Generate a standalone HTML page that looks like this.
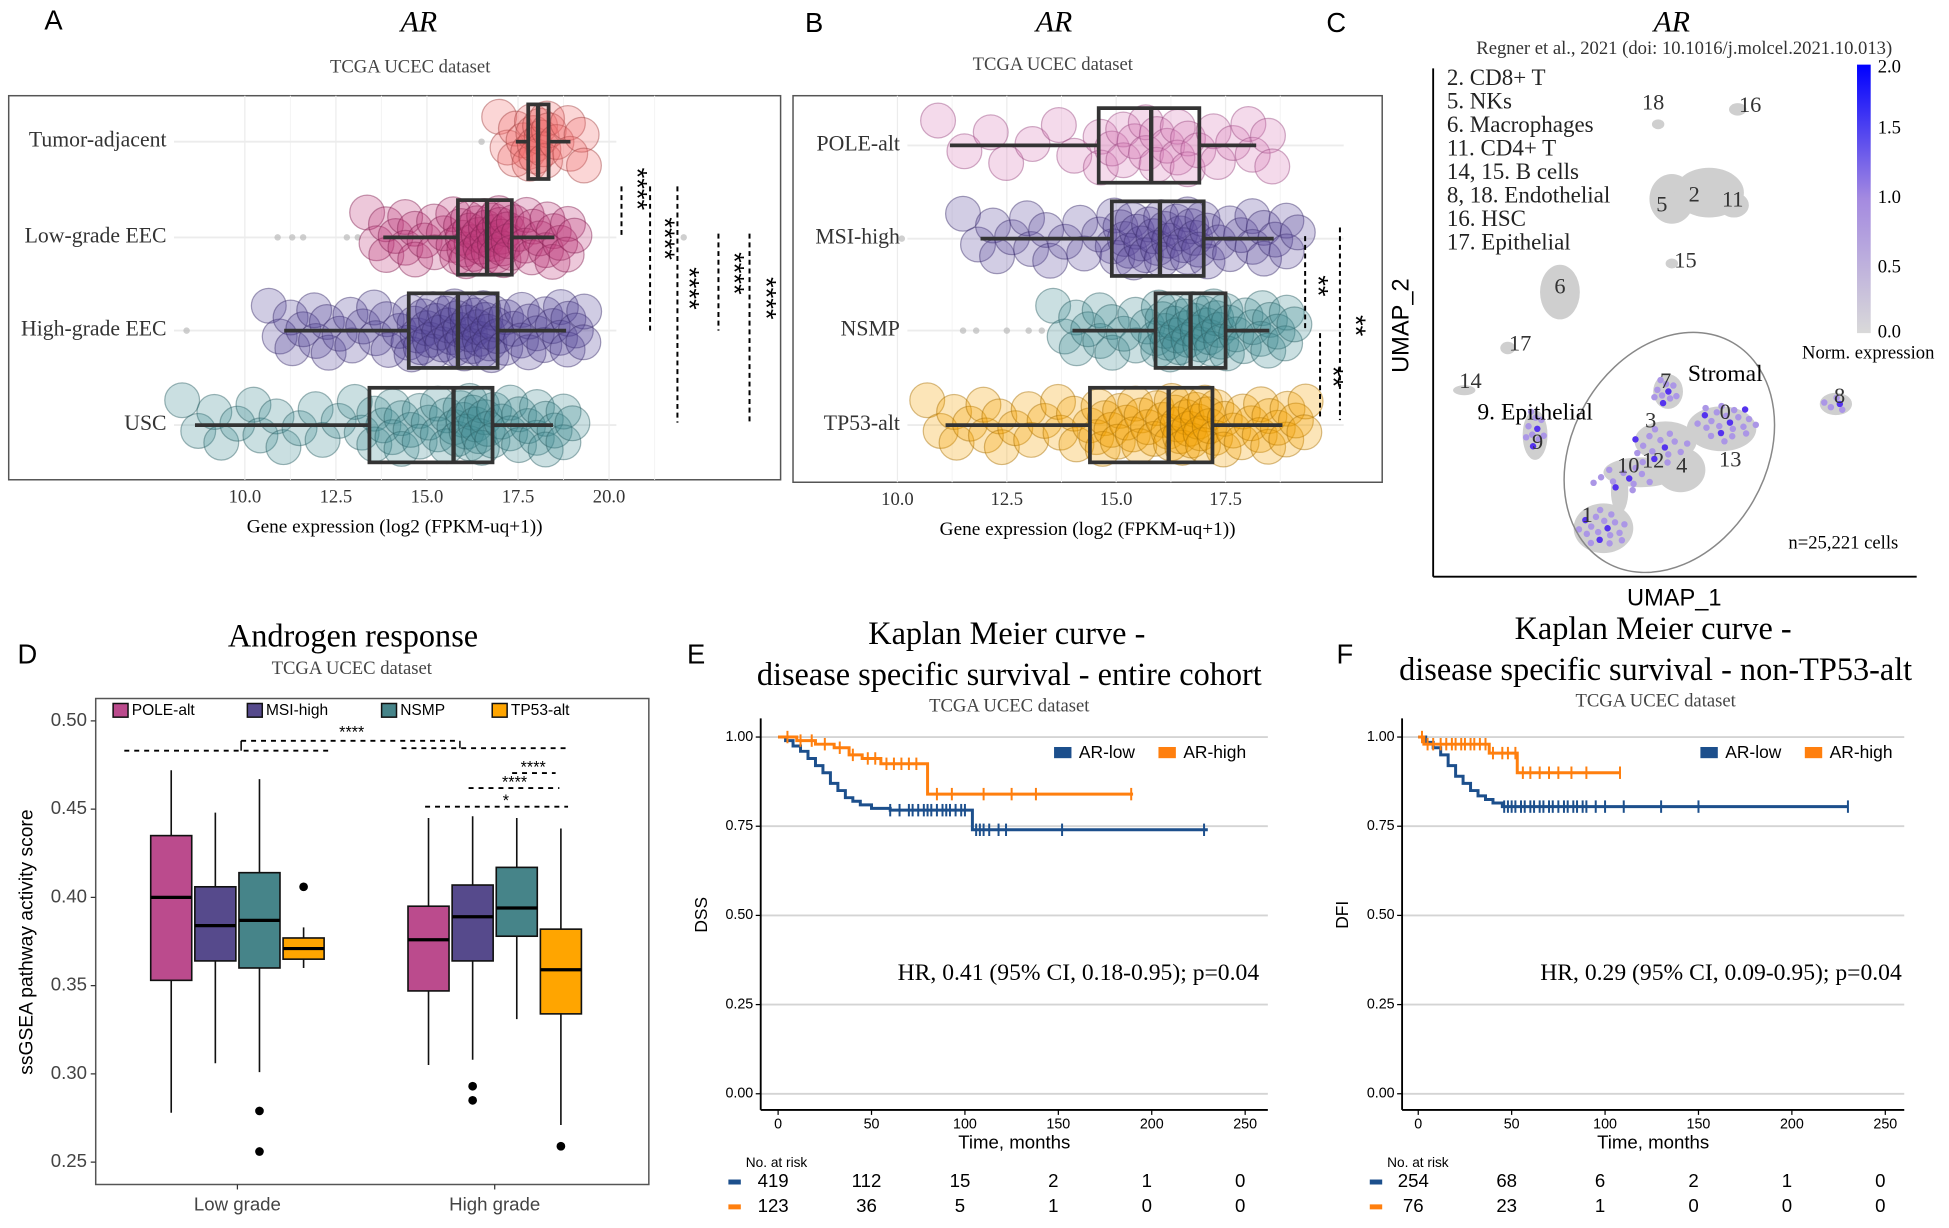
<!DOCTYPE html>
<html><head><meta charset="utf-8">
<style>
html,body{margin:0;padding:0;background:#fff;}
svg{display:block;}
</style></head>
<body>
<svg id="fig" width="1949" height="1228" viewBox="0 0 1568 988" preserveAspectRatio="none">
<rect x="0" y="0" width="1568" height="988" fill="#fff"/>
<g id="root"></g>
</svg>
<script>
// ---------- DATA ----------
// Panel A
const aCategories = ["Tumor-adjacent","Low-grade EEC","High-grade EEC","USC"];
const aWhiskLo = [17.44, 13.8, 11.08, 8.63];
const aQ1 = [17.78, 15.85, 14.5, 13.42];
const aMedian = [18.05, 16.65, 15.85, 15.73];
const aQ3 = [18.34, 17.33, 16.94, 16.8];
const aWhiskHi = [18.94, 18.5, 18.82, 18.46];
const aCounts = [22, 60, 75, 60];
const aOutliers = [[16.5],[10.9,11.3,11.6,12.8,13.1,22.05],[8.4],[]];
const aTicks = [10.0, 12.5, 15.0, 17.5, 20.0];
// Panel B
const bCategories = ["POLE-alt","MSI-high","NSMP","TP53-alt"];
const bWhiskLo = [11.2, 11.9, 14.0, 11.1];
const bQ1 = [14.6, 14.9, 15.9, 14.4];
const bMedian = [15.8, 16.0, 16.7, 16.2];
const bQ3 = [16.9, 17.0, 17.5, 17.2];
const bWhiskHi = [18.2, 18.6, 18.5, 18.8];
const bCounts = [30, 55, 55, 70];
const bOutliers = [[],[10.1],[11.5,11.8,12.5,13.0,13.3],[]];
const bTicks = [10.0, 12.5, 15.0, 17.5];
// Panel D
const dGroups = ["Low grade","High grade"];
const dSubtypes = ["POLE-alt","MSI-high","NSMP","TP53-alt"];
const dWhiskLo = [[0.278,0.306,0.301,0.360],[0.305,0.308,0.331,0.271]];
const dQ1 = [[0.353,0.364,0.360,0.365],[0.347,0.364,0.378,0.334]];
const dMedian = [[0.400,0.384,0.387,0.371],[0.376,0.389,0.394,0.359]];
const dQ3 = [[0.435,0.406,0.414,0.377],[0.395,0.407,0.417,0.382]];
const dWhiskHi = [[0.472,0.448,0.467,0.383],[0.445,0.446,0.445,0.439]];
const dOutliers = [[[],[],[0.279,0.256],[0.406]],[[],[0.293,0.285],[],[0.259]]];
const dTicks = [0.25,0.30,0.35,0.40,0.45,0.50];
// Panel E (entire cohort)
const eLowT = [0,4,8,12,16,20,24,28,32,36,40,44,50,60,104,230];
const eLowS = [1,0.99,0.975,0.96,0.94,0.92,0.90,0.87,0.85,0.83,0.82,0.81,0.80,0.795,0.74,0.74];
const eHighT = [0,10,20,30,38,45,55,80,190];
const eHighS = [1,0.99,0.98,0.97,0.95,0.94,0.925,0.84,0.84];
const eLowCens = [60,65,70,72,75,78,80,82,85,88,90,92,95,98,100,106,108,110,113,118,122,152,228];
const eHighCens = [5,12,18,25,33,40,48,52,58,62,66,70,74,85,93,110,125,138,189];
const eRiskLow = [419,112,15,2,1,0];
const eRiskHigh = [123,36,5,1,0,0];
// Panel F (non-TP53-alt)
const fLowT = [0,4,8,12,16,20,24,28,32,36,40,45,230];
const fLowS = [1,0.985,0.97,0.95,0.92,0.89,0.87,0.85,0.835,0.825,0.815,0.805,0.805];
const fHighT = [0,3,38,53,108];
const fHighS = [1,0.98,0.955,0.90,0.90];
const fLowCens = [46,48,50,52,55,57,60,62,65,67,70,72,75,78,80,83,85,88,90,95,100,110,130,150,230];
const fHighCens = [2,5,8,12,15,18,20,23,25,28,30,33,36,40,45,48,52,56,60,65,70,75,82,90,108];
const fRiskLow = [254,68,6,2,1,0];
const fRiskHigh = [76,23,1,0,0,0];
const kmTicksX = [0,50,100,150,200,250];
const kmTicksY = [0,0.25,0.5,0.75,1.0];

// ---------- HELPERS ----------
const NS = "http://www.w3.org/2000/svg";
const root = document.getElementById('root');
function el(tag, attrs, name, parent) {
  const e = document.createElementNS(NS, tag);
  for (const k in attrs) e.setAttribute(k, attrs[k]);
  
  
  (parent || root).appendChild(e);
  return e;
}
function txt(x, y, s, size, name, opts) {
  opts = opts || {};
  const t = el('text', {x:x, y:y, 'font-size':size, fill:opts.fill||'#000',
    'text-anchor':opts.anchor||'middle', 'font-family':opts.sans?'"Liberation Sans",sans-serif':'"Liberation Serif",serif',
    'font-style':opts.italic?'italic':'normal', 'dominant-baseline':'middle'}, name, opts.parent);
  if (opts.rot) t.setAttribute('transform', 'rotate(' + opts.rot + ' ' + x + ' ' + y + ')');
  t.textContent = s;
  return t;
}
function interp(p, lo, q1, md, q3, hi) {
  const ks=[0,0.25,0.5,0.75,1], vs=[lo,q1,md,q3,hi];
  for (let i=0;i<4;i++) if (p<=ks[i+1]) return vs[i]+(vs[i+1]-vs[i])*(p-ks[i])/(ks[i+1]-ks[i]);
  return hi;
}

// ---------- PANEL A / B (bubble box plots) ----------
function bubblePanel(cfg) {
  const g = el('g', {}, cfg.name);
  el('rect', {x:cfg.bx, y:cfg.by, width:cfg.bw, height:cfg.bh, fill:'#fff', stroke:'#555', 'stroke-width':1.2}, 'plot-frame', g);
  const xs = v => cfg.x0 + (v - cfg.t0) * cfg.ppu;
  cfg.ticks.forEach(t => {
    el('line', {x1:xs(t), x2:xs(t), y1:cfg.by, y2:cfg.by+cfg.bh, stroke:'#ececec', 'stroke-width':1}, 'grid-line', g);
    el('line', {x1:xs(t+1.25), x2:xs(t+1.25), y1:cfg.by, y2:cfg.by+cfg.bh, stroke:'#f4f4f4', 'stroke-width':0.8}, 'grid-line-minor', g);
    txt(xs(t), cfg.by+cfg.bh+15, t.toFixed(1), 15, 'x-tick-label', {fill:'#333', parent:g});
  });
  txt(cfg.bx+cfg.bw/2, cfg.by+cfg.bh+39, 'Gene expression (log2 (FPKM-uq+1))', 15.5, 'x-axis-title', {parent:g});
  cfg.cats.forEach((c, i) => {
    const y = cfg.rows[i];
    el('line', {x1:cfg.labelX+6, x2:xs(20.2), y1:y, y2:y, stroke:'#ececec', 'stroke-width':1.5}, 'row-grid', g);
    txt(cfg.labelX, y, c, 17.5, 'category-label', {anchor:'end', fill:'#333', parent:g});
    cfg.out[i].forEach(o => el('circle', {cx:xs(o), cy:y, r:2.6, fill:'#bbb', opacity:0.7}, 'outlier-dot', g));
    const n = cfg.n[i];
    for (let k=0;k<n;k++) {
      const p = (k+0.5)/n;
      const v = interp(p, cfg.lo[i]-0.4, cfg.q1[i], cfg.md[i], cfg.q3[i], cfg.hi[i]+0.6);
      const jy = (((k*0.6180339)%1) - 0.5) * 40;
      const jx = (((k*0.3819)%1) - 0.5) * 0.25;
      el('circle', {cx:xs(v+jx), cy:y+jy, r:cfg.r, fill:cfg.colors[i], 'fill-opacity':0.28, stroke:cfg.strokes[i], 'stroke-opacity':0.45, 'stroke-width':1}, 'data-bubble', g);
    }
    const bh = 30;
    el('line', {x1:xs(cfg.lo[i]), x2:xs(cfg.q1[i]), y1:y, y2:y, stroke:'#333', 'stroke-width':3}, 'whisker-low', g);
    el('line', {x1:xs(cfg.q3[i]), x2:xs(cfg.hi[i]), y1:y, y2:y, stroke:'#333', 'stroke-width':3}, 'whisker-high', g);
    el('rect', {x:xs(cfg.q1[i]), y:y-bh, width:xs(cfg.q3[i])-xs(cfg.q1[i]), height:2*bh, fill:'none', stroke:'#333', 'stroke-width':3}, 'box', g);
    el('line', {x1:xs(cfg.md[i]), x2:xs(cfg.md[i]), y1:y-bh, y2:y+bh, stroke:'#333', 'stroke-width':3.5}, 'median-line', g);
  });
  return g;
}
bubblePanel({name:'panel-a', bx:7, by:77, bw:621, bh:309, x0:197, t0:10, ppu:29.3, ticks:aTicks,
  cats:aCategories, rows:[114,191,266,342], labelX:134, lo:aWhiskLo, q1:aQ1, md:aMedian, q3:aQ3, hi:aWhiskHi, n:aCounts, out:aOutliers, r:14,
  colors:['#f26d6d','#c03a7a','#56479a','#3f8c93'], strokes:['#a04040','#802050','#3a2c6a','#2c5f64']});
bubblePanel({name:'panel-b', bx:638, by:77, bw:474, bh:311, x0:722, t0:10, ppu:35.2, ticks:bTicks,
  cats:bCategories, rows:[117,192,266,342], labelX:724, lo:bWhiskLo, q1:bQ1, md:bMedian, q3:bQ3, hi:bWhiskHi, n:bCounts, out:bOutliers, r:14,
  colors:['#d77ab8','#5e4d9e','#3f8c93','#f5a300'], strokes:['#9a4a80','#3a2c6a','#2c5f64','#a86e00']});

// panel A/B headers
txt(43, 18, 'A', 22, 'panel-label-a', {sans:true});
txt(337, 20, 'AR', 24, 'panel-a-title', {italic:true});
txt(330, 55, 'TCGA  UCEC dataset', 15, 'panel-a-subtitle', {fill:'#444'});
txt(655, 20, 'B', 22, 'panel-label-b', {sans:true});
txt(848, 20, 'AR', 24, 'panel-b-title', {italic:true});
txt(847, 53, 'TCGA  UCEC dataset', 15, 'panel-b-subtitle', {fill:'#444'});
// significance A
[[500,150,190],[523,150,268],[545,150,340],[578,188,266],[603,188,342]].forEach(d=>
  el('line',{x1:d[0],x2:d[0],y1:d[1],y2:d[2],stroke:'#000','stroke-width':1.6,'stroke-dasharray':'4,3'},'significance-bracket'));
[[511,152],[533,192],[553,232],[589,220],[615,240]].forEach(d=>txt(d[0],d[1],'****',22,'significance-stars',{rot:90,sans:true}));
// significance B
[[1050,190,265],[1078,183,338],[1062,268,338]].forEach(d=>
  el('line',{x1:d[0],x2:d[0],y1:d[1],y2:d[2],stroke:'#000','stroke-width':1.6,'stroke-dasharray':'4,3'},'significance-bracket'));
[[1059,230],[1089,262],[1071,303]].forEach(d=>txt(d[0],d[1],'**',22,'significance-stars',{rot:90,sans:true}));

// ---------- PANEL C (UMAP) ----------
(function(){
  const g = el('g', {}, 'panel-c');
  txt(1075, 20, 'C', 22, 'panel-label-c', {sans:true, parent:g});
  txt(1345, 20, 'AR', 24, 'panel-c-title', {italic:true, parent:g});
  txt(1355, 40, 'Regner et al., 2021 (doi: 10.1016/j.molcel.2021.10.013)', 15, 'citation', {fill:'#333', parent:g});
  el('line',{x1:1153,x2:1153,y1:55,y2:464,stroke:'#000','stroke-width':1.5},'umap-y-axis',g);
  el('line',{x1:1153,x2:1542,y1:464,y2:464,stroke:'#000','stroke-width':1.5},'umap-x-axis',g);
  txt(1128, 262, 'UMAP_2', 19, 'umap-y-title', {sans:true, rot:-90, parent:g});
  txt(1347, 482, 'UMAP_1', 19, 'umap-x-title', {sans:true, parent:g});
  const leg = ['2. CD8+ T','5. NKs','6. Macrophages','11. CD4+ T','14, 15. B cells','8, 18. Endothelial','16. HSC','17. Epithelial'];
  leg.forEach((s,i)=>txt(1164, 64+i*18.9, s, 18.5, 'cluster-legend-entry', {anchor:'start', fill:'#222', parent:g}));
  const defs = el('defs',{},'defs',g);
  const lg = el('linearGradient',{id:'cb',x1:0,y1:1,x2:0,y2:0},'colorbar-gradient',defs);
  el('stop',{offset:'0','stop-color':'#d9d9d9'},'stop',lg);
  el('stop',{offset:'0.5','stop-color':'#a48ae0'},'stop',lg);
  el('stop',{offset:'1','stop-color':'#0000ff'},'stop',lg);
  el('rect',{x:1494,y:52,width:11,height:216,fill:'url(#cb)'},'colorbar',g);
  [['2.0',55],['1.5',104],['1.0',160],['0.5',216],['0.0',268]].forEach(d=>txt(1520,d[1],d[0],15,'colorbar-tick',{parent:g}));
  txt(1503, 285, 'Norm. expression', 15, 'colorbar-title', {parent:g});
  const blobs = [[1334,100,5,4],[1398,88,7,5],[1345,160,18,20],[1375,155,28,20],[1395,165,12,10],[1345,212,5,4],[1255,235,16,22],[1213,280,6,5],[1178,314,9,4],[1235,350,10,20],[1342,315,12,14],[1340,355,25,16],[1385,345,28,18],[1320,380,30,12],[1352,378,20,18],[1290,425,24,20],[1303,395,7,18],[1477,325,13,9]];
  blobs.forEach(b=>el('ellipse',{cx:b[0],cy:b[1],rx:b[2],ry:b[3],fill:'#cfcfcf'},'cell-cluster',g));
  const purple = [[1235,345,8,18,10],[1340,315,10,12,10],[1335,360,25,15,16],[1388,340,25,16,22],[1305,385,28,10,12],[1290,425,20,16,18],[1477,325,10,7,5]];
  purple.forEach(p=>{for(let k=0;k<p[4];k++){const a=k*2.399,rr=Math.sqrt((k+0.5)/p[4]);
    el('circle',{cx:p[0]+Math.cos(a)*p[2]*rr,cy:p[1]+Math.sin(a)*p[3]*rr,r:2.6,fill:k%6==0?'#5533ee':'#ab96e6'},'expressing-cell',g);}});
  el('ellipse',{cx:1343,cy:364,rx:78,ry:102,transform:'rotate(30 1343 364)',fill:'none',stroke:'#888','stroke-width':1.2},'stromal-ellipse',g);
  [['18',1330,84],['16',1408,86],['5',1337,166],['2',1363,158],['11',1394,162],['15',1356,211],['6',1255,232],['17',1223,278],['14',1183,308],['9',1237,357],['7',1340,308],['3',1328,340],['0',1388,333],['10',1310,376],['12',1330,372],['4',1353,376],['13',1392,371],['1',1277,416],['8',1480,320]]
    .forEach(d=>txt(d[1],d[2],d[0],18,'cluster-number',{fill:'#333',parent:g}));
  txt(1388, 302, 'Stromal', 19, 'stromal-label', {parent:g});
  txt(1235, 333, '9. Epithelial', 19, 'epithelial-label', {parent:g});
  txt(1483, 438, 'n=25,221 cells', 15, 'cell-count', {parent:g});
})();

// ---------- PANEL D ----------
(function(){
  const g = el('g', {}, 'panel-d');
  txt(22, 528, 'D', 22, 'panel-label-d', {sans:true, parent:g});
  txt(284, 514, 'Androgen response', 26, 'panel-d-title', {parent:g});
  txt(283, 539, 'TCGA  UCEC dataset', 15, 'panel-d-subtitle', {fill:'#444', parent:g});
  el('rect',{x:77,y:562,width:445,height:391,fill:'#fff',stroke:'#555','stroke-width':1.2},'plot-frame',g);
  const ys = v => 580 + (0.5 - v) * 1420;
  dTicks.forEach(t=>{el('line',{x1:73,x2:77,y1:ys(t),y2:ys(t),stroke:'#333'},'y-tick',g);
    txt(70, ys(t), t.toFixed(2), 15, 'y-tick-label', {anchor:'end', sans:true, fill:'#444', parent:g});});
  txt(22, 758, 'ssGSEA pathway activity score', 15.5, 'y-axis-title', {sans:true, rot:-90, parent:g});
  const colors = ['#bb4b8d','#564a8c','#468489','#ffa500'];
  const gCenters = [191,398], bw = 33, step = 35.5;
  dGroups.forEach((gn,gi)=>{
    el('line',{x1:gCenters[gi],x2:gCenters[gi],y1:953,y2:957,stroke:'#333'},'x-tick',g);
    txt(gCenters[gi], 970, gn, 15, 'x-tick-label', {sans:true, fill:'#444', parent:g});
    dSubtypes.forEach((s,si)=>{
      const cx = gCenters[gi] + (si-1.5)*step;
      el('line',{x1:cx,x2:cx,y1:ys(dWhiskHi[gi][si]),y2:ys(dWhiskLo[gi][si]),stroke:'#111','stroke-width':1.3},'whisker',g);
      el('rect',{x:cx-bw/2,y:ys(dQ3[gi][si]),width:bw,height:ys(dQ1[gi][si])-ys(dQ3[gi][si]),fill:colors[si],stroke:'#111','stroke-width':1.3},'box-'+s,g);
      el('line',{x1:cx-bw/2,x2:cx+bw/2,y1:ys(dMedian[gi][si]),y2:ys(dMedian[gi][si]),stroke:'#000','stroke-width':2.6},'median-line',g);
      dOutliers[gi][si].forEach(o=>el('circle',{cx:cx,cy:ys(o),r:3.5,fill:'#000'},'outlier',g));
    });
  });
  dSubtypes.forEach((s,i)=>{const lx=[106,214,322,411][i];
    el('rect',{x:lx-15,y:566,width:12,height:11,fill:colors[i],stroke:'#111','stroke-width':1.2},'legend-swatch',g);
    txt(lx, 572, s, 12.5, 'legend-entry', {anchor:'start', sans:true, parent:g});});
  const dash = {stroke:'#000','stroke-width':1.5,'stroke-dasharray':'4,4'};
  [[100,265,604],[194,370,596],[323,459,602],[412,447,622],[377,450,634],[342,457,649]].forEach(d=>
    el('line',Object.assign({x1:d[0],x2:d[1],y1:d[2],y2:d[2]},dash),'significance-line',g));
  el('line',{x1:194,x2:194,y1:596,y2:604,stroke:'#000','stroke-width':1.2},'significance-tick',g);
  el('line',{x1:370,x2:370,y1:596,y2:602,stroke:'#000','stroke-width':1.2},'significance-tick',g);
  txt(283, 590, '****', 13, 'significance-stars', {sans:true, parent:g});
  txt(429, 618, '****', 13, 'significance-stars', {sans:true, parent:g});
  txt(414, 630, '****', 13, 'significance-stars', {sans:true, parent:g});
  txt(407, 645, '*', 13, 'significance-stars', {sans:true, parent:g});
})();

// ---------- KM PANELS ----------
function kmPanel(cfg) {
  const g = el('g', {}, cfg.name);
  txt(cfg.letterX, 528, cfg.letter, 22, 'panel-label', {sans:true, parent:g});
  txt(cfg.tx, cfg.ty, 'Kaplan Meier curve -', 26, 'km-title-line1', {parent:g});
  txt(cfg.tx+2, cfg.ty+33, cfg.title2, 26, 'km-title-line2', {parent:g});
  txt(cfg.tx+2, cfg.ty+57, 'TCGA  UCEC dataset', 15, 'km-subtitle', {fill:'#444', parent:g});
  const xs = t => cfg.x0 + t * 1.503;
  const ys = s => 880 - s * 287;
  kmTicksY.forEach(s=>{
    el('line',{x1:cfg.left,x2:cfg.right,y1:ys(s),y2:ys(s),stroke:'#d4d4d4','stroke-width':1.5},'grid-line',g);
    el('line',{x1:cfg.left-4,x2:cfg.left,y1:ys(s),y2:ys(s),stroke:'#000'},'y-tick',g);
    txt(cfg.left-6, ys(s), s.toFixed(2), 11.5, 'y-tick-label', {anchor:'end', sans:true, parent:g});
  });
  el('line',{x1:cfg.left,x2:cfg.left,y1:578,y2:893,stroke:'#000','stroke-width':1.5},'y-axis',g);
  el('line',{x1:cfg.left,x2:cfg.right,y1:893,y2:893,stroke:'#000','stroke-width':1.5},'x-axis',g);
  kmTicksX.forEach(t=>{el('line',{x1:xs(t),x2:xs(t),y1:893,y2:897,stroke:'#000'},'x-tick',g);
    txt(xs(t), 905, String(t), 11.5, 'x-tick-label', {sans:true, parent:g});});
  txt((cfg.left+cfg.right)/2, 920, 'Time, months', 15, 'x-axis-title', {sans:true, parent:g});
  txt(cfg.left-47, 736, cfg.ylab, 14, 'y-axis-title', {sans:true, rot:-90, parent:g});
  function curve(T, S, cens, color, name) {
    let d = 'M' + xs(T[0]) + ',' + ys(S[0]);
    for (let i=1;i<T.length;i++) d += ' H' + xs(T[i]) + ' V' + ys(S[i]);
    el('path',{d:d,fill:'none',stroke:color,'stroke-width':2.4},name,g);
    cens.forEach(c=>{let s=S[0];for(let i=0;i<T.length;i++) if(T[i]<=c) s=S[i];
      el('line',{x1:xs(c),x2:xs(c),y1:ys(s)-5,y2:ys(s)+5,stroke:color,'stroke-width':1.6},'censor-mark',g);});
  }
  curve(cfg.lowT, cfg.lowS, cfg.lowC, '#1c4f8c', 'curve-ar-low');
  curve(cfg.highT, cfg.highS, cfg.highC, '#ff7f0e', 'curve-ar-high');
  el('rect',{x:cfg.legX,y:601,width:14,height:9,fill:'#1c4f8c'},'legend-swatch-low',g);
  txt(cfg.legX+20, 606, 'AR-low', 14, 'legend-entry-low', {anchor:'start', sans:true, parent:g});
  el('rect',{x:cfg.legX+84,y:601,width:14,height:9,fill:'#ff7f0e'},'legend-swatch-high',g);
  txt(cfg.legX+104, 606, 'AR-high', 14, 'legend-entry-high', {anchor:'start', sans:true, parent:g});
  txt(cfg.hrX, 784, cfg.hr, 19, 'hazard-ratio-annotation', {anchor:'end', parent:g});
  txt(cfg.left-12, 936, 'No. at risk', 11, 'risk-table-title', {anchor:'start', sans:true, parent:g});
  el('rect',{x:cfg.left-26,y:949,width:10,height:4,fill:'#1c4f8c'},'risk-low-swatch',g);
  el('rect',{x:cfg.left-26,y:969,width:10,height:4,fill:'#ff7f0e'},'risk-high-swatch',g);
  kmTicksX.forEach((t,i)=>{
    txt(xs(t)-4, 951, String(cfg.riskLow[i]), 15, 'risk-count-low', {sans:true, parent:g});
    txt(xs(t)-4, 971, String(cfg.riskHigh[i]), 15, 'risk-count-high', {sans:true, parent:g});
  });
}
kmPanel({name:'panel-e', letter:'E', letterX:560, tx:810, ty:512, title2:'disease specific survival - entire cohort', ylab:'DSS',
  left:612, right:1020, x0:626, lowT:eLowT, lowS:eLowS, highT:eHighT, highS:eHighS, lowC:eLowCens, highC:eHighCens,
  legX:848, hrX:1013, hr:'HR, 0.41 (95% CI, 0.18-0.95); p=0.04', riskLow:eRiskLow, riskHigh:eRiskHigh});
kmPanel({name:'panel-f', letter:'F', letterX:1082, tx:1330, ty:508, title2:'disease specific survival - non-TP53-alt', ylab:'DFI',
  left:1128, right:1532, x0:1141, lowT:fLowT, lowS:fLowS, highT:fHighT, highS:fHighS, lowC:fLowCens, highC:fHighCens,
  legX:1368, hrX:1530, hr:'HR, 0.29 (95% CI, 0.09-0.95); p=0.04', riskLow:fRiskLow, riskHigh:fRiskHigh});
</script>
</body></html>
